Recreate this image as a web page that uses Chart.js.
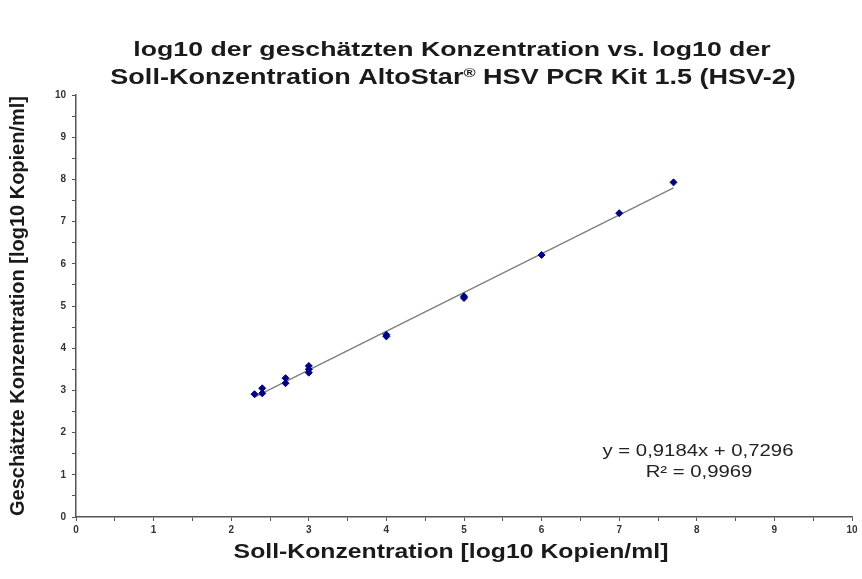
<!DOCTYPE html>
<html>
<head>
<meta charset="utf-8">
<script src="https://cdn.jsdelivr.net/npm/chart.js@4.4.1/dist/chart.umd.min.js"></script>
<style>
html,body{margin:0;padding:0;background:#fff;}
#wrap{width:862px;height:579px;position:relative;}
</style>
</head>
<body>
<div id="wrap"><canvas id="c" width="862" height="579"></canvas></div>
<script>
// Data
const sollKonz = [2.3, 2.4, 2.4, 2.7, 2.7, 3, 3, 3, 4, 4, 5, 5, 6, 7, 7.7];
const geschKonz = [2.91, 3.05, 2.93, 3.29, 3.17, 3.42, 3.5, 3.58, 4.28, 4.32, 5.19, 5.23, 6.21, 7.2, 7.93];
const trendX = [2.3, 7.7];
const trendY = [2.84, 7.80];
const titleLine1 = "log10 der geschätzten Konzentration vs. log10 der";
const titleLine2Parts = ["Soll-Konzentration AltoStar", "®", " HSV PCR Kit 1.5 (HSV-2)"];
const xTitle = "Soll-Konzentration [log10 Kopien/ml]";
const yTitle = "Geschätzte Konzentration [log10 Kopien/ml]";
const eqLines = ["y = 0,9184x + 0,7296", "R² = 0,9969"];

const FONT = "'Liberation Sans', Arial, sans-serif";
const HSTRETCH = 1.27; // reference text is drawn horizontally wider

function stretchedParts(ctx, parts, cx, y) {
  let total = 0;
  parts.forEach(p => { ctx.font = p.font; p.w = ctx.measureText(p.text).width; total += p.w; });
  ctx.save();
  ctx.translate(cx, y);
  ctx.scale(HSTRETCH, 1);
  ctx.textAlign = 'left';
  ctx.textBaseline = 'middle';
  let x = -total / 2;
  parts.forEach(p => { ctx.font = p.font; ctx.fillText(p.text, x, p.dy || 0); x += p.w; });
  ctx.restore();
}

const textPlugin = {
  id: 'textPlugin',
  afterDraw(chart) {
    const ctx = chart.ctx;
    ctx.save();
    ctx.fillStyle = '#1a1a1a';
    const big = "bold 21px " + FONT, big2 = "bold 21.3px " + FONT, small = "bold 13px " + FONT;
    stretchedParts(ctx, [{text: titleLine1, font: big}], 452, 50);
    stretchedParts(ctx, [
      {text: titleLine2Parts[0], font: big2},
      {text: titleLine2Parts[1], font: small, dy: -5},
      {text: titleLine2Parts[2], font: big2}
    ], 453, 78);
    stretchedParts(ctx, [{text: xTitle, font: "bold 19.5px " + FONT}], 451, 553);
    ctx.fillStyle = '#222';
    stretchedParts(ctx, [{text: eqLines[0], font: "16px " + FONT}], 698, 452);
    stretchedParts(ctx, [{text: eqLines[1], font: "16px " + FONT}], 699, 473);
    ctx.restore();
  }
};

const tickCb = v => (Math.abs(v - Math.round(v)) < 1e-9 ? String(Math.round(v)) : '');

new Chart(document.getElementById('c'), {
  type: 'scatter',
  data: {
    datasets: [
      {
        label: 'Messwerte',
        data: sollKonz.map((v, i) => ({x: v, y: geschKonz[i]})),
        backgroundColor: '#000080',
        borderColor: '#000080',
        pointStyle: 'rectRot',
        pointRadius: 3.5,
        pointHoverRadius: 3.5,
        order: 1
      },
      {
        label: 'Trend',
        type: 'line',
        data: trendX.map((v, i) => ({x: v, y: trendY[i]})),
        borderColor: '#808080',
        borderWidth: 1.5,
        pointRadius: 0,
        fill: false,
        order: 2
      }
    ]
  },
  options: {
    responsive: false,
    animation: false,
    devicePixelRatio: 1,
    layout: {padding: {top: 95, right: 10, left: 0, bottom: 0}},
    plugins: {legend: {display: false}, title: {display: false}, tooltip: {enabled: false}},
    scales: {
      x: {
        type: 'linear', min: 0, max: 10,
        afterFit: s => { s.height = 62; },
        ticks: {stepSize: 0.5, autoSkip: false, maxRotation: 0, callback: tickCb, padding: 3,
                color: '#333', font: {family: FONT, size: 10, weight: 'bold'}},
        grid: {display: true, drawOnChartArea: false, drawTicks: true, tickLength: 4, color: '#555', lineWidth: 1},
        border: {display: true, color: '#555', width: 1.5},
        title: {display: false}
      },
      y: {
        type: 'linear', min: 0, max: 10,
        afterFit: s => { s.width = 76; },
        ticks: {stepSize: 0.5, autoSkip: false, callback: tickCb, padding: 6,
                color: '#333', font: {family: FONT, size: 10, weight: 'bold'}},
        grid: {display: true, drawOnChartArea: false, drawTicks: true, tickLength: 4, color: '#555', lineWidth: 1},
        border: {display: true, color: '#555', width: 1.5},
        title: {display: true, text: yTitle, color: '#1a1a1a', padding: {top: 6, bottom: 0},
                font: {family: FONT, size: 20, weight: 'bold', lineHeight: 1.2}}
      }
    }
  },
  plugins: [textPlugin]
});
</script>
</body>
</html>
